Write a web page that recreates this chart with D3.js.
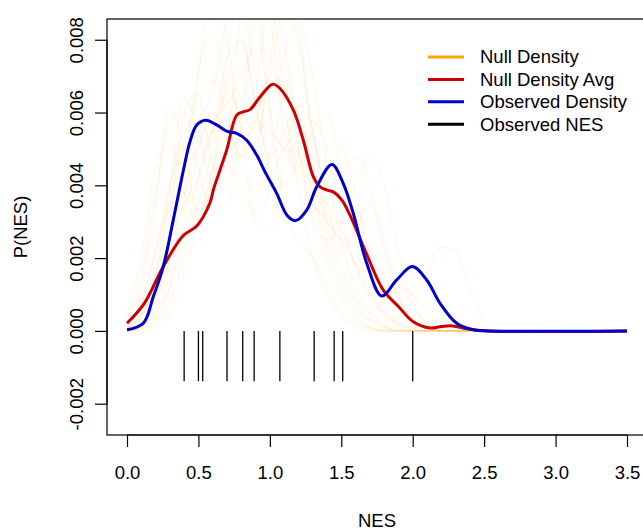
<!DOCTYPE html>
<html><head><meta charset="utf-8">
<script src="https://cdn.jsdelivr.net/npm/d3@7"></script>
<style>body{margin:0;background:#fff}text{font-family:"Liberation Sans",Arial,Helvetica,sans-serif}</style>
</head><body><svg id="c" width="643" height="530"></svg>
<script>
// ---------------- data ----------------
const xTicks = [0.0, 0.5, 1.0, 1.5, 2.0, 2.5, 3.0, 3.5];
const xTickLabels = ["0.0","0.5","1.0","1.5","2.0","2.5","3.0","3.5"];
const yTicks = [-0.002, 0.000, 0.002, 0.004, 0.006, 0.008];
const yTickLabels = ["-0.002","0.000","0.002","0.004","0.006","0.008"];
const legendLabels = ["Null Density","Null Density Avg","Observed Density","Observed NES"];

// Observed NES values (rug)
const observedNES = [0.40, 0.50, 0.53, 0.70, 0.81, 0.89, 1.07, 1.31, 1.45, 1.51, 2.00];
const rugDepth = -0.00138;

// Null density average (red)
const avgX = [0.0, 0.12, 0.254, 0.394, 0.488, 0.581, 0.604, 0.651, 0.698, 0.768, 0.814, 0.861, 0.931, 1.02, 1.071, 1.164, 1.234, 1.304, 1.351, 1.40, 1.444, 1.503, 1.561, 1.678, 1.794, 1.90, 2.004, 2.121, 2.20, 2.27, 2.378, 2.518, 3.5];
const avgY = [0.00021, 0.00075, 0.00177, 0.00262, 0.00288, 0.00352, 0.00387, 0.00442, 0.00497, 0.00593, 0.00602, 0.00608, 0.00643, 0.00678, 0.00666, 0.00607, 0.00524, 0.00424, 0.00396, 0.00387, 0.00382, 0.00360, 0.00318, 0.00210, 0.00112, 0.00067, 0.00025, 0.00008, 0.00012, 0.00014, 0.00006, 0.0, 0.0];

// Observed density (blue)
const obsX = [0.0, 0.114, 0.184, 0.254, 0.324, 0.394, 0.441, 0.488, 0.551, 0.628, 0.698, 0.768, 0.838, 0.908, 0.966, 1.048, 1.120, 1.180, 1.258, 1.328, 1.435, 1.514, 1.584, 1.678, 1.783, 1.888, 1.997, 2.098, 2.191, 2.308, 2.424, 2.55, 3.5];
const obsY = [0.00003, 0.00021, 0.00094, 0.00177, 0.00305, 0.00440, 0.00520, 0.00566, 0.00579, 0.00566, 0.00549, 0.00543, 0.00524, 0.00483, 0.00437, 0.00378, 0.00318, 0.00303, 0.00332, 0.00396, 0.00457, 0.00405, 0.00323, 0.00186, 0.00096, 0.00140, 0.00177, 0.00140, 0.00076, 0.00021, 0.00003, 0.0, 0.0];

// Individual null densities (faint orange), sampled on a shared NES grid
const nullX = [0.0,0.1,0.2,0.3,0.4,0.5,0.6,0.7,0.8,0.9,1.0,1.1,1.2,1.3,1.4,1.5,1.6,1.7,1.8,1.9,2.0,2.1,2.2,2.3,2.4,2.5,2.6,3.5];
const nullCurves = [
 [0.0003,0.0012,0.0035,0.0062,0.0050,0.0032,0.0045,0.0068,0.0055,0.0030,0.0028,0.0045,0.0052,0.0038,0.0018,0.0008,0.0003,0.0001,0,0,0,0,0,0,0,0,0,0],
 [0.0001,0.0004,0.0015,0.0038,0.0064,0.0055,0.0040,0.0050,0.0088,0.0095,0.0060,0.0035,0.0025,0.0020,0.0012,0.0005,0.0002,0.00005,0,0,0,0,0,0,0,0,0,0],
 [0.00005,0.0002,0.0008,0.0025,0.0045,0.0066,0.0069,0.0060,0.0045,0.0038,0.0048,0.0065,0.0072,0.0055,0.0030,0.0015,0.0008,0.0003,0.0001,0,0,0,0,0,0,0,0,0],
 [0,0.0001,0.0005,0.0015,0.0035,0.0070,0.0095,0.0080,0.0055,0.0050,0.0075,0.0098,0.0085,0.0050,0.0025,0.0012,0.0006,0.0003,0.0001,0,0,0,0,0,0,0,0,0],
 [0.0002,0.0008,0.0022,0.0035,0.0038,0.0036,0.0040,0.0045,0.0040,0.0032,0.0038,0.0050,0.0048,0.0040,0.0045,0.0050,0.0038,0.0020,0.0008,0.0002,0.00005,0,0,0,0,0,0,0],
 [0,0.00005,0.0002,0.0008,0.0020,0.0035,0.0050,0.0075,0.0100,0.0090,0.0060,0.0050,0.0062,0.0055,0.0035,0.0022,0.0028,0.0035,0.0025,0.0010,0.0003,0.0001,0,0,0,0,0,0],
 [0.0004,0.0015,0.0038,0.0058,0.0060,0.0045,0.0032,0.0035,0.0055,0.0085,0.0090,0.0065,0.0038,0.0020,0.0010,0.0004,0.0001,0,0,0,0,0,0,0,0,0,0,0],
 [0,0.0001,0.0004,0.0012,0.0025,0.0042,0.0055,0.0055,0.0048,0.0052,0.0070,0.0088,0.0080,0.0055,0.0040,0.0042,0.0048,0.0040,0.0022,0.0009,0.0003,0.00005,0,0,0,0,0,0],
 [0.0001,0.0005,0.0018,0.0040,0.0055,0.0058,0.0066,0.0085,0.0090,0.0070,0.0045,0.0030,0.0032,0.0038,0.0030,0.0018,0.0009,0.0005,0.0008,0.0012,0.0010,0.0005,0.0002,0,0,0,0,0],
 [0,0,0.0001,0.0005,0.0015,0.0030,0.0045,0.0055,0.0060,0.0062,0.0065,0.0068,0.0060,0.0045,0.0032,0.0025,0.0025,0.0022,0.0015,0.0009,0.0010,0.0016,0.0023,0.0022,0.0012,0.0003,0.00005,0],
 [0.0005,0.0020,0.0045,0.0052,0.0038,0.0030,0.0042,0.0068,0.0080,0.0062,0.0048,0.0055,0.0062,0.0042,0.0022,0.0010,0.0004,0.0001,0,0,0,0,0,0,0,0,0,0],
 [0,0.0001,0.0006,0.0020,0.0045,0.0072,0.0082,0.0065,0.0052,0.0058,0.0070,0.0068,0.0050,0.0035,0.0032,0.0038,0.0035,0.0022,0.0010,0.0003,0.0001,0,0,0,0,0,0,0],
 [0.0001,0.0004,0.0012,0.0025,0.0035,0.0042,0.0055,0.0065,0.0060,0.0055,0.0060,0.0075,0.0085,0.0070,0.0045,0.0025,0.0012,0.0005,0.00015,0,0,0,0,0,0,0,0,0],
 [0,0.00005,0.0003,0.0012,0.0030,0.0050,0.0060,0.0052,0.0048,0.0065,0.0090,0.0080,0.0050,0.0030,0.0025,0.0030,0.0040,0.0048,0.0040,0.0022,0.0008,0.0002,0,0,0,0,0,0],
 [0.0002,0.0008,0.0022,0.0040,0.0050,0.0052,0.0055,0.0058,0.0060,0.0058,0.0055,0.0050,0.0042,0.0035,0.0030,0.0025,0.0018,0.0010,0.0005,0.0002,0.00005,0,0,0,0,0,0,0],
 [0,0.0002,0.0010,0.0030,0.0060,0.0065,0.0045,0.0040,0.0060,0.0092,0.0085,0.0055,0.0045,0.0055,0.0060,0.0045,0.0025,0.0012,0.0005,0.0002,0,0,0,0,0,0,0,0],
 [0.0001,0.0004,0.0015,0.0035,0.0050,0.0048,0.0055,0.0075,0.0080,0.0062,0.0045,0.0040,0.0048,0.0058,0.0050,0.0032,0.0018,0.0015,0.0018,0.0015,0.0007,0.0002,0,0,0,0,0,0],
 [0,0.0002,0.0008,0.0020,0.0038,0.0052,0.0058,0.0062,0.0070,0.0078,0.0075,0.0060,0.0045,0.0038,0.0035,0.0028,0.0018,0.0009,0.0004,0.0001,0,0,0,0,0,0,0,0]
];

// ---------------- drawing ----------------
const plot = {left: 107, right: 647, top: 19, bottom: 435};
const svg = d3.select("#c");
const x = d3.scaleLinear().domain([-0.14, 3.64]).range([plot.left, plot.right]);
const y = d3.scaleLinear().domain([-0.00286, 0.00857]).range([plot.bottom, plot.top]);
const FS = 18.5;

svg.append("defs").append("clipPath").attr("id","clip")
  .append("rect").attr("x",plot.left).attr("y",plot.top)
  .attr("width",plot.right-plot.left).attr("height",plot.bottom-plot.top);

const g = svg.append("g").attr("clip-path","url(#clip)");
const nullLine = d3.line().x(d=>x(d[0])).y(d=>y(d[1])).curve(d3.curveMonotoneX);
const mainLine = d3.line().x(d=>x(d[0])).y(d=>y(d[1])).curve(d3.curveCatmullRom.alpha(0.5));

// null densities
nullCurves.forEach(c=>{
  g.append("path").datum(nullX.map((v,i)=>[v,c[i]]))
   .attr("d",nullLine).attr("fill","none").attr("stroke","#FFA500")
   .attr("stroke-opacity",0.075).attr("stroke-width",1.4);
});

// average null density
g.append("path").datum(avgX.map((v,i)=>[v,avgY[i]]))
  .attr("d",mainLine).attr("fill","none").attr("stroke","#CD0000").attr("stroke-width",3);

// observed density
g.append("path").datum(obsX.map((v,i)=>[v,obsY[i]]))
  .attr("d",mainLine).attr("fill","none").attr("stroke","#0000CD").attr("stroke-width",3);

// rug of observed NES
g.selectAll("line.rug").data(observedNES).enter().append("line")
  .attr("x1",d=>x(d)).attr("x2",d=>x(d)).attr("y1",y(0)).attr("y2",y(rugDepth))
  .attr("stroke","#000").attr("stroke-width",1.3);

// box
svg.append("rect").attr("x",plot.left).attr("y",plot.top)
  .attr("width",plot.right-plot.left).attr("height",plot.bottom-plot.top)
  .attr("fill","none").attr("stroke","#000").attr("stroke-width",1.2);

// x axis
const xa = svg.append("g").attr("transform",`translate(0,${plot.bottom})`)
  .call(d3.axisBottom(x).tickValues(xTicks).tickSize(12).tickSizeOuter(0)
        .tickFormat((d,i)=>xTickLabels[i]));
xa.select(".domain").attr("d",`M${x(xTicks[0])},0H${x(xTicks[xTicks.length-1])}`).attr("stroke","#000").attr("stroke-width",1.2);
xa.selectAll(".tick line").attr("stroke","#000").attr("stroke-width",1.2);
xa.selectAll(".tick text").attr("font-size",FS).attr("fill","#000")
  .attr("font-family","Liberation Sans, Arial, sans-serif").attr("y",31).attr("dy","0.71em");

// y axis
const ya = svg.append("g").attr("transform",`translate(${plot.left},0)`)
  .call(d3.axisLeft(y).tickValues(yTicks).tickSize(12).tickSizeOuter(0)
        .tickFormat((d,i)=>yTickLabels[i]));
ya.select(".domain").attr("d",`M0,${y(yTicks[0])}V${y(yTicks[yTicks.length-1])}`).attr("stroke","#000").attr("stroke-width",1.2);
ya.selectAll(".tick line").attr("stroke","#000").attr("stroke-width",1.2);
ya.selectAll(".tick text").attr("font-size",FS).attr("fill","#000")
  .attr("font-family","Liberation Sans, Arial, sans-serif")
  .attr("x",null).attr("dy",null)
  .attr("text-anchor","middle")
  .attr("transform","translate(-24,0) rotate(-90)");

// axis titles
svg.append("text").attr("x",(plot.left+plot.right)/2).attr("y",527)
  .attr("text-anchor","middle").attr("font-size",FS).attr("fill","#000").text("NES");
svg.append("text").attr("transform",`translate(27,${(plot.top+plot.bottom)/2}) rotate(-90)`)
  .attr("text-anchor","middle").attr("font-size",FS).attr("fill","#000").text("P(NES)");

// legend
const legColors = ["#FFA500","#CD0000","#0000CD","#000000"];
const lg = svg.append("g");
legendLabels.forEach((t,i)=>{
  const yy = 57 + i*22.4;
  lg.append("line").attr("x1",428).attr("x2",464).attr("y1",yy).attr("y2",yy)
    .attr("stroke",legColors[i]).attr("stroke-width",3);
  lg.append("text").attr("x",480).attr("y",yy).attr("dy","0.35em")
    .attr("font-size",FS).attr("fill","#000").text(t);
});
</script></body></html>
